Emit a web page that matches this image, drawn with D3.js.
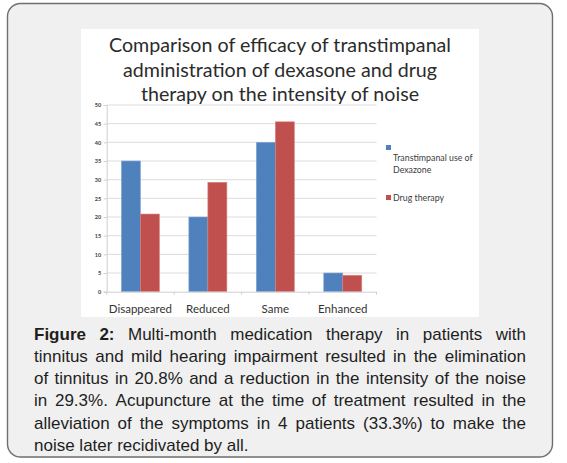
<!DOCTYPE html>
<html>
<head>
<meta charset="utf-8">
<script src="https://cdn.jsdelivr.net/npm/d3@7"></script>
<style>
  html, body { margin: 0; padding: 0; background: #ffffff; }
  svg { display: block; }
</style>
</head>
<body>
<svg id="fig" width="567" height="463"></svg>
<script>
// ---- data ----
const categories = ["Disappeared", "Reduced", "Same", "Enhanced"];
const seriesNames = ["Transtimpanal use of Dexazone", "Drug therapy"];
const dexazoneValues = [35, 20, 40, 5];
const drugTherapyValues = [20.8, 29.3, 45.5, 4.4];
const yTickValues = [0, 5, 10, 15, 20, 25, 30, 35, 40, 45, 50];
const titleLines = [
  "Comparison of efficacy of transtimpanal",
  "administration of dexasone and drug",
  "therapy on the intensity of noise"
];
const legendLabelLines = [["Transtimpanal use of", "Dexazone"], ["Drug therapy"]];
const captionLabel = "Figure 2:";
const captionLines = [
  "Multi-month medication therapy in patients with",
  "tinnitus and mild hearing impairment resulted in the elimination",
  "of tinnitus in 20.8% and a reduction in the intensity of the noise",
  "in 29.3%. Acupuncture at the time of treatment resulted in the",
  "alleviation of the symptoms in 4 patients (33.3%) to make the",
  "noise later recidivated by all."
];

// ---- layout ----
const colors = ["#4f81bd", "#c0504d"];
const svg = d3.select("#fig");

// outer panel
svg.append("rect")
  .attr("x", 7.5).attr("y", 3.5).attr("width", 545).attr("height", 453.5)
  .attr("rx", 13).attr("ry", 13)
  .attr("fill", "#f0f0f0").attr("stroke", "#6e6e6e").attr("stroke-width", 1.4);

// chart image area
svg.append("rect")
  .attr("x", 81).attr("y", 29).attr("width", 398).attr("height", 288)
  .attr("fill", "#ffffff");

// title
const titleG = svg.append("g").attr("font-family", "Lato, 'Open Sans', sans-serif")
  .attr("font-size", 19).attr("fill", "#2b2b2b").attr("text-anchor", "middle");
const titleTexts = titleG.selectAll("text").data(titleLines).join("text")
  .attr("x", 280).attr("y", (d, i) => 52 + i * 24.5).text(d => d);
const firstLen = titleTexts.node().getComputedTextLength();
const titleFactor = 342 / firstLen;
titleTexts.each(function() {
  const len = this.getComputedTextLength();
  d3.select(this).attr("textLength", len * titleFactor).attr("lengthAdjust", "spacingAndGlyphs");
});

// scales
const x0 = d3.scaleBand().domain(categories).range([106.7, 376.5]).paddingInner(0).paddingOuter(0);
const x1 = d3.scaleBand().domain(seriesNames).range([0, x0.bandwidth()]).paddingInner(0).paddingOuter(0.775);
const y = d3.scaleLinear().domain([0, 50]).range([291.7, 105]);

// gridlines
svg.append("g").selectAll("line").data(yTickValues.filter(v => v > 0)).join("line")
  .attr("x1", x0.range()[0]).attr("x2", x0.range()[1])
  .attr("y1", d => y(d)).attr("y2", d => y(d))
  .attr("stroke", "#dcdcdc").attr("stroke-width", 1);

// y axis
const yAxis = d3.axisLeft(y).tickValues(yTickValues).tickSize(3).tickPadding(2.5).tickFormat(d3.format("d"));
const yG = svg.append("g").attr("transform", `translate(${x0.range()[0]},0)`).call(yAxis);
yG.select(".domain").attr("stroke", "#cfcfcf");
yG.selectAll(".tick line").attr("stroke", "#cfcfcf");
yG.selectAll(".tick text").attr("font-family", "Lato, sans-serif").attr("font-size", 5.5)
  .attr("font-weight", "bold").attr("fill", "#404040");

// bars
const seriesValues = [dexazoneValues, drugTherapyValues];
const barsG = svg.append("g");
seriesNames.forEach((s, si) => {
  barsG.append("g").selectAll("rect").data(categories).join("rect")
    .attr("x", c => x0(c) + x1(s))
    .attr("y", (c, i) => y(seriesValues[si][i]))
    .attr("width", x1.bandwidth())
    .attr("height", (c, i) => y(0) - y(seriesValues[si][i]))
    .attr("fill", colors[si])
    .attr("stroke", si === 0 ? "#7fa4d4" : "#d88380").attr("stroke-width", 0.6);
});

// x axis
const xAxis = d3.axisBottom(x0).tickSize(0).tickPadding(13);
const xG = svg.append("g").attr("transform", `translate(0,${y(0)})`).call(xAxis);
xG.select(".domain").attr("stroke", "#cfcfcf");
xG.selectAll(".tick text").attr("font-family", "Lato, sans-serif").attr("font-size", 11.5)
  .attr("fill", "#333333");
// category boundary tick marks
const boundaries = categories.map(c => x0(c)).concat([x0.range()[1]]);
svg.append("g").selectAll("line").data(boundaries).join("line")
  .attr("x1", d => d).attr("x2", d => d)
  .attr("y1", y(0)).attr("y2", y(0) + 3)
  .attr("stroke", "#cfcfcf");

// legend
const legendG = svg.append("g").attr("font-family", "Lato, sans-serif").attr("font-size", 8.8).attr("fill", "#404040");
const legendSquares = [{x: 386, y: 145}, {x: 386, y: 195}];
const legendTextStart = [160.7, 200.7];
seriesNames.forEach((s, si) => {
  legendG.append("rect").attr("x", legendSquares[si].x).attr("y", legendSquares[si].y)
    .attr("width", 5).attr("height", 5).attr("fill", colors[si]);
  legendLabelLines[si].forEach((ln, li) => {
    legendG.append("text").attr("x", 393).attr("y", legendTextStart[si] + li * 12.6).text(ln);
  });
});

// caption (justified)
const capG = svg.append("g").attr("font-family", "'Liberation Sans', Arial, sans-serif")
  .attr("font-size", 17).attr("fill", "#1e1e1e");
const left = 34, right = 526;
captionLines.forEach((line, li) => {
  const yy = 339.5 + li * 22.3;
  const words = line.split(" ").map(w => ({text: w, bold: false}));
  if (li === 0) {
    captionLabel.split(" ").reverse().forEach(w => words.unshift({text: w, bold: true}));
  }
  const nodes = words.map(w => {
    const t = capG.append("text").attr("y", yy).attr("font-weight", w.bold ? "bold" : "normal").text(w.text);
    return {node: t, w: t.node().getComputedTextLength()};
  });
  const total = d3.sum(nodes, n => n.w);
  const justify = li < captionLines.length - 1;
  const gap = justify ? (right - left - total) / (nodes.length - 1) : 4.72;
  let cx = left;
  nodes.forEach(n => { n.node.attr("x", cx); cx += n.w + gap; });
});
</script>
</body>
</html>
